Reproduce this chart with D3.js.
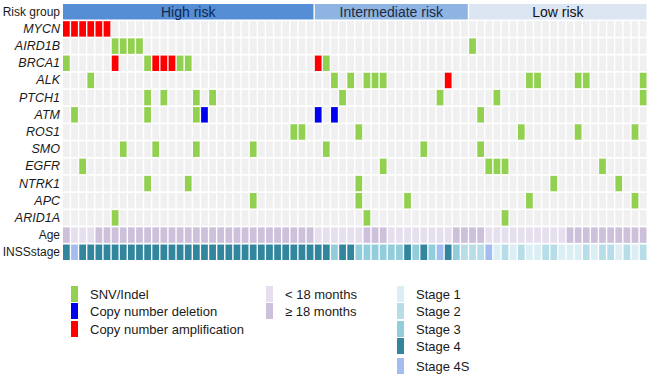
<!DOCTYPE html>
<meta charset="utf-8">
<script src="https://d3js.org/d3.v7.min.js"></script>
<style>
body { margin: 0; background: #fff; }
svg { font-family: "Liberation Sans", Arial, sans-serif; }
.axis .domain { display: none; }
</style>
<body>
<div id="canvas"></div>
<script>

// linhas do oncoprint
var genes = ["MYCN", "AIRD1B", "BRCA1", "ALK", "PTCH1", "ATM", "ROS1", "SMO", "EGFR", "NTRK1", "APC", "ARID1A"];
var riskNames = ["High risk", "Intermediate risk", "Low risk"];
var riskCounts = [31, 19, 22];

// colunas (amostras) com mutação, por gene
var snv = {
    "AIRD1B": [6, 7, 8, 9, 50],
    "BRCA1": [0, 10, 14, 15, 32],
    "ALK": [3, 33, 35, 37, 38, 39, 57, 58, 63, 64, 71],
    "PTCH1": [10, 12, 16, 18, 34, 46, 53, 71],
    "ATM": [1, 10, 16, 51],
    "ROS1": [28, 29, 36, 56, 63, 70],
    "SMO": [7, 11, 16, 23, 32, 44, 51],
    "EGFR": [2, 39, 52, 53, 54, 66],
    "NTRK1": [10, 15, 36, 60, 68],
    "APC": [23, 36, 42, 57, 70],
    "ARID1A": [6, 37, 54]
};
var cnDeletion = { "ATM": [17, 31, 33] };
var cnAmplification = { "MYCN": [0, 1, 2, 3, 4, 5], "BRCA1": [6, 11, 12, 13, 31], "ALK": [47] };

// idade: 0 = < 18 meses, 1 = >= 18 meses
var age = [1,0,0,0,1,1,1,1,1,1,1,1,1,1,1,1,1,1,1,1,1,1,1,1,1,1,1,1,1,1,1,
           0,0,0,0,0,0,1,1,1,0,0,0,0,0,0,0,0,1,1,
           1,1,0,0,0,0,0,0,0,0,0,0,1,1,1,1,1,1,1,1,1,1];
// estágio INSS
var stage = ["4","4S","4","4","4","4","4","4","4","4","4","4","4","4","4","4","4","4","4","4","4","4","4","4","4","4","4","4","4","4","4",
             "4","4","3","4","4","3","3","3","3","3","3","4","3","4","3","4S","4","3","2",
             "2","2","4S","1","2","1","2","1","1","2","2","1","1","1","2","1","2","2","1","2","1","2"];

var typeNames = ["SNV/Indel", "Copy number deletion", "Copy number amplification"];
var typeColors = ["#92d050", "#0000ee", "#ff0000"];
var ageNames = ["< 18 months", "\u2265 18 months"];
var ageColors = ["#e6e0ee", "#ccc0da"];
var stageNames = ["Stage 1", "Stage 2", "Stage 3", "Stage 4", "Stage 4S"];
var stageColors = ["#daeef3", "#b7dee8", "#92cddc", "#31859c", "#a4bdf0"];
var riskColors = ["#558ed5", "#8eb4e3", "#dce6f2"];
var riskText = ["#10284f", "#1f2a3c", "#111"];

var width = 648, height = 390;
var svg = d3.select("#canvas").append("svg")
    .attr("width", width)
    .attr("height", height);

var nSamples = d3.sum(riskCounts);
var rows = ["Risk group"].concat(genes, ["Age", "INSSstage"]);

var x = d3.scaleBand()
    .domain(d3.range(nSamples))
    .range([63, 646.5])
    .paddingInner(0.17);
var y = d3.scaleBand()
    .domain(rows)
    .range([4, 260])
    .paddingInner(0.1);

// rótulos das linhas
var yAxis = d3.axisLeft(y).tickSize(0).tickPadding(3);
svg.append("g")
    .attr("class", "axis")
    .attr("transform", "translate(63,0)")
    .call(yAxis)
    .selectAll("text")
    .style("font-size", function(d) { return genes.indexOf(d) >= 0 ? "12.5px" : "12px"; })
    .style("fill", "#1a1a1a")
    .style("font-style", function(d) { return genes.indexOf(d) >= 0 ? "italic" : "normal"; });

// grupo de risco
var starts = [0];
riskCounts.forEach(function(c, i) { starts.push(starts[i] + c); });
var risk = svg.selectAll(".risk")
    .data(riskNames)
    .enter().append("g");
risk.append("rect")
    .attr("x", function(d, i) { return x(starts[i]); })
    .attr("y", y("Risk group"))
    .attr("width", function(d, i) { return x(starts[i + 1] - 1) + x.bandwidth() - x(starts[i]); })
    .attr("height", y.bandwidth())
    .attr("fill", function(d, i) { return riskColors[i]; });
risk.append("text")
    .attr("x", function(d, i) { return (x(starts[i]) + x(starts[i + 1] - 1) + x.bandwidth()) / 2; })
    .attr("y", y("Risk group") + y.bandwidth() / 2)
    .attr("dy", "0.35em")
    .attr("text-anchor", "middle")
    .style("font-size", "14px")
    .style("fill", function(d, i) { return riskText[i]; })
    .text(function(d) { return d; });

// matriz de mutações
var cells = [];
genes.forEach(function(g) {
    d3.range(nSamples).forEach(function(s) {
        var col = "#f0f0f0";
        if ((snv[g] || []).indexOf(s) >= 0) col = typeColors[0];
        if ((cnDeletion[g] || []).indexOf(s) >= 0) col = typeColors[1];
        if ((cnAmplification[g] || []).indexOf(s) >= 0) col = typeColors[2];
        cells.push({ gene: g, sample: s, color: col });
    });
});
svg.append("g").selectAll("rect")
    .data(cells)
    .enter().append("rect")
    .attr("x", function(d) { return x(d.sample); })
    .attr("y", function(d) { return y(d.gene); })
    .attr("width", x.bandwidth())
    .attr("height", y.bandwidth())
    .attr("fill", function(d) { return d.color; });

// idade e estágio
svg.append("g").selectAll("rect")
    .data(age)
    .enter().append("rect")
    .attr("x", function(d, i) { return x(i); })
    .attr("y", y("Age"))
    .attr("width", x.bandwidth())
    .attr("height", y.bandwidth())
    .attr("fill", function(d) { return ageColors[d]; });
svg.append("g").selectAll("rect")
    .data(stage)
    .enter().append("rect")
    .attr("x", function(d, i) { return x(i); })
    .attr("y", y("INSSstage"))
    .attr("width", x.bandwidth())
    .attr("height", y.bandwidth())
    .attr("fill", function(d) { return stageColors[stageNames.indexOf("Stage " + d)]; });

// legendas
function legend(names, colors, x0, ys) {
    var lg = svg.append("g").selectAll("g")
        .data(names)
        .enter().append("g")
        .attr("transform", function(d, i) { return "translate(" + x0 + "," + ys[i] + ")"; });
    lg.append("rect")
        .attr("x", 0)
        .attr("y", -8)
        .attr("width", 7)
        .attr("height", 16)
        .attr("fill", function(d, i) { return colors[i]; });
    lg.append("text")
        .attr("x", 19)
        .attr("dy", "0.35em")
        .style("font-size", "13px")
        .style("fill", "#1a1a1a")
        .text(function(d) { return d; });
}
legend(typeNames, typeColors, 71, [294, 311, 329]);
legend(ageNames, ageColors, 266, [294, 311]);
legend(stageNames, stageColors, 397, [294, 311, 329, 346, 366]);

</script>
</body>
